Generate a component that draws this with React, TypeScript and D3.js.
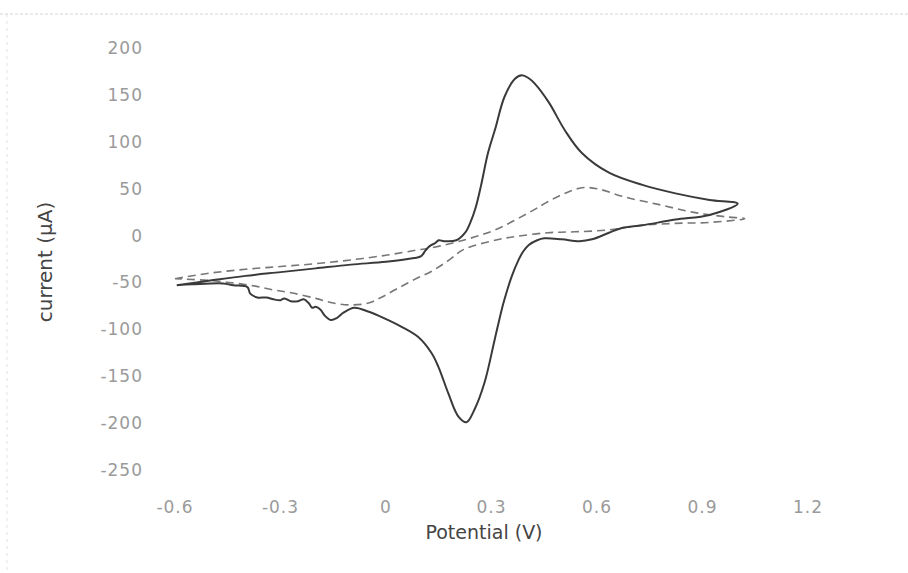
import React from 'react';
import * as d3 from 'd3';

// solid CV (forward scan then reverse scan), potential in V, current in µA
const solidPotential = [
  -0.595, -0.5, -0.4, -0.3, -0.2, -0.1, 0, 0.08, 0.1, 0.112, 0.125, 0.14, 0.15, 0.165, 0.2, 0.225,
  0.24, 0.255, 0.27, 0.29, 0.31, 0.337, 0.366, 0.386, 0.405, 0.423, 0.463, 0.509, 0.557, 0.634,
  0.729, 0.823, 0.92, 1.0,
  0.92, 0.823, 0.729, 0.671, 0.634, 0.586, 0.55, 0.5, 0.45, 0.43, 0.406, 0.39, 0.377, 0.357,
  0.337, 0.329, 0.309, 0.28, 0.251, 0.229, 0.206, 0.177, 0.149, 0.129, 0.091, 0.043, -0.006,
  -0.051, -0.09, -0.12, -0.14, -0.157, -0.175, -0.186, -0.2, -0.21, -0.22, -0.234, -0.25,
  -0.271, -0.29, -0.3, -0.32, -0.34, -0.366, -0.386, -0.394, -0.434, -0.463, -0.55, -0.595,
];
const solidCurrent = [
  -53, -48, -43, -39, -35, -31, -28, -24, -22, -16, -11, -8, -5, -6, -5, 3,
  14, 30, 53, 88, 113, 148, 167, 171, 168, 162, 142, 112, 88, 67,
  54, 45, 38, 34,
  22, 17, 11, 8, 3, -4, -6, -4, -3, -5, -10, -17, -26, -44,
  -68, -79, -111, -157, -186, -199, -193, -168, -140, -125, -108, -97, -88,
  -81, -77, -82, -88, -90, -85, -79, -76, -77, -72, -68, -70,
  -70, -67, -69, -68, -66, -66, -62, -55, -53, -51, -52, -53,
];

// dashed CV
const dashedPotential = [
  -0.6, -0.5, -0.4, -0.3, -0.2, -0.1, 0, 0.08, 0.13, 0.22, 0.31, 0.414, 0.46, 0.509, 0.557,
  0.6, 0.68, 0.777, 0.871, 0.966, 1.02,
  0.92, 0.823, 0.729, 0.634, 0.537, 0.46, 0.37, 0.31, 0.22, 0.18, 0.13, 0.08, 0.03, -0.014,
  -0.05, -0.1, -0.15, -0.2, -0.27, -0.32, -0.386, -0.5, -0.6,
];
const dashedCurrent = [
  -46, -40, -36, -33, -30, -26, -21, -16, -13, -5, 6, 26, 36, 45, 51,
  50, 41, 33, 25, 20, 18,
  14, 13, 11, 6, 4, 3, -1, -5, -15, -26, -38, -47, -57, -66,
  -72, -74, -72, -67, -61, -58, -53, -48, -46,
];

const xTicks = [-0.6, -0.3, 0, 0.3, 0.6, 0.9, 1.2];
const yTicks = [200, 150, 100, 50, 0, -50, -100, -150, -200, -250];

const W = 908;
const H = 573;

export default function App() {
  const x = d3.scaleLinear().domain([-0.6, 1.2]).range([175, 808]);
  const y = d3.scaleLinear().domain([-250, 200]).range([470, 48]);

  const line = d3
    .line<[number, number]>()
    .x((d) => x(d[0]))
    .y((d) => y(d[1]))
    .curve(d3.curveCatmullRom.alpha(0.5));

  const solid = solidPotential.map((p, i) => [p, solidCurrent[i]] as [number, number]);
  const dashed = dashedPotential.map((p, i) => [p, dashedCurrent[i]] as [number, number]);

  const font = 'DejaVu Sans, sans-serif';

  return (
    <svg
      width={W}
      height={H}
      style={{ position: 'absolute', left: 0, top: 0, background: '#fff' }}
    >
      {/* faint scanned chart border */}
      <line x1={0} x2={W} y1={14} y2={14} stroke="#d4d4d4" strokeDasharray="3,2" />
      <line x1={7} x2={7} y1={14} y2={H} stroke="#e2e2e2" strokeDasharray="3,4" />

      <path d={line(dashed) || ''} fill="none" stroke="#777" strokeWidth={1.6} strokeDasharray="8,5" />
      <path d={line(solid) || ''} fill="none" stroke="#3a3a3a" strokeWidth={2} />

      {yTicks.map((t) => (
        <text
          key={t}
          x={143}
          y={y(t)}
          dy="0.35em"
          textAnchor="end"
          fontFamily={font}
          fontSize={17}
          letterSpacing={1}
          fill="#9a9a9a"
        >
          {t}
        </text>
      ))}
      {xTicks.map((t) => (
        <text
          key={t}
          x={x(t)}
          y={507}
          dy="0.35em"
          textAnchor="middle"
          fontFamily={font}
          fontSize={17}
          letterSpacing={1}
          fill="#9a9a9a"
        >
          {t}
        </text>
      ))}

      <text x={484} y={539} textAnchor="middle" fontFamily={font} fontSize={19} fill="#444">
        Potential (V)
      </text>
      <text
        transform="translate(52,262) rotate(-90)"
        textAnchor="middle"
        fontFamily={font}
        fontSize={20}
        fill="#444"
      >
        current (µA)
      </text>
    </svg>
  );
}
